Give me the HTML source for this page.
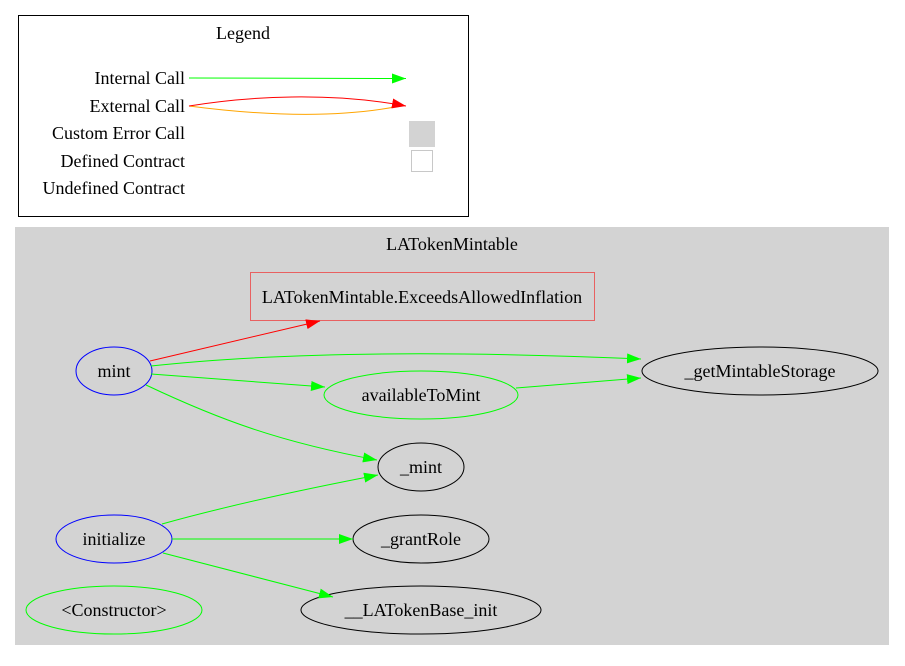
<!DOCTYPE html>
<html><head><meta charset="utf-8"><style>html,body{margin:0;padding:0;background:#fff}</style></head>
<body>
<svg width="905" height="661" xmlns="http://www.w3.org/2000/svg" font-family="Liberation Serif, serif" font-size="18">
<defs>
<marker id="g" markerWidth="14" markerHeight="10" refX="14" refY="5" orient="auto" markerUnits="userSpaceOnUse"><path d="M0,0 L14,5 L0,10 z" fill="#00ff00"/></marker>
<marker id="r" markerWidth="14" markerHeight="10" refX="14" refY="5" orient="auto" markerUnits="userSpaceOnUse"><path d="M0,0 L14,5 L0,10 z" fill="#ff0000"/></marker>
</defs>
<rect x="18.5" y="15.5" width="450" height="201" fill="#fff" stroke="#000"/>
<text x="243" y="39" text-anchor="middle">Legend</text>
<g text-anchor="end">
<text x="185" y="84">Internal Call</text>
<text x="185" y="112">External Call</text>
<text x="185" y="139">Custom Error Call</text>
<text x="185" y="167">Defined Contract</text>
<text x="185" y="194">Undefined Contract</text>
</g>
<line x1="189" y1="78" x2="406" y2="78.5" stroke="#00ff00" marker-end="url(#g)"/>
<path d="M189,106 C250,114 330,120 400,106" fill="none" stroke="#ffa500"/>
<path d="M189,106 C250,96 330,92 406,106" fill="none" stroke="#ff0000" marker-end="url(#r)"/>
<rect x="409" y="121" width="26" height="26" fill="#d3d3d3"/>
<rect x="411.5" y="150.5" width="21" height="21" fill="#fff" stroke="#c8c8c8"/>

<rect x="15" y="227" width="874" height="418" fill="#d3d3d3"/>
<text x="452" y="250" text-anchor="middle">LATokenMintable</text>

<rect x="250.5" y="272.5" width="344" height="48" fill="none" stroke="#e86060"/>
<text x="422" y="303" text-anchor="middle">LATokenMintable.ExceedsAllowedInflation</text>

<g fill="none">
<ellipse cx="114" cy="371" rx="38" ry="24" stroke="#0000ff"/>
<ellipse cx="114" cy="539" rx="58" ry="24" stroke="#0000ff"/>
<ellipse cx="114" cy="610" rx="88" ry="24" stroke="#00ff00"/>
<ellipse cx="421" cy="395" rx="97" ry="24" stroke="#00ff00"/>
<ellipse cx="760" cy="371" rx="118" ry="24" stroke="#000"/>
<ellipse cx="421" cy="467" rx="43" ry="24" stroke="#000"/>
<ellipse cx="421" cy="539" rx="68" ry="24" stroke="#000"/>
<ellipse cx="421" cy="610" rx="120" ry="24" stroke="#000"/>
</g>
<g text-anchor="middle">
<text x="114" y="377">mint</text>
<text x="114" y="545">initialize</text>
<text x="114" y="616">&lt;Constructor&gt;</text>
<text x="421" y="401">availableToMint</text>
<text x="760" y="377">_getMintableStorage</text>
<text x="421" y="473">_mint</text>
<text x="421" y="545">_grantRole</text>
<text x="421" y="616">__LATokenBase_init</text>
</g>
<g fill="none" stroke="#00ff00">
<path d="M150,361 L320,321" stroke="#ff0000" marker-end="url(#r)"/>
<path d="M151,366 C300,350 480,352 641,359" marker-end="url(#g)"/>
<path d="M151,374 L325,387" marker-end="url(#g)"/>
<path d="M516,388 L641,378" marker-end="url(#g)"/>
<path d="M146,385 C220,420 280,442 377,460" marker-end="url(#g)"/>
<path d="M162,524 C230,505 300,490 378,475" marker-end="url(#g)"/>
<path d="M172,539 L353,539" marker-end="url(#g)"/>
<path d="M163,553 L333,597" marker-end="url(#g)"/>
</g>
</svg>
</body></html>
